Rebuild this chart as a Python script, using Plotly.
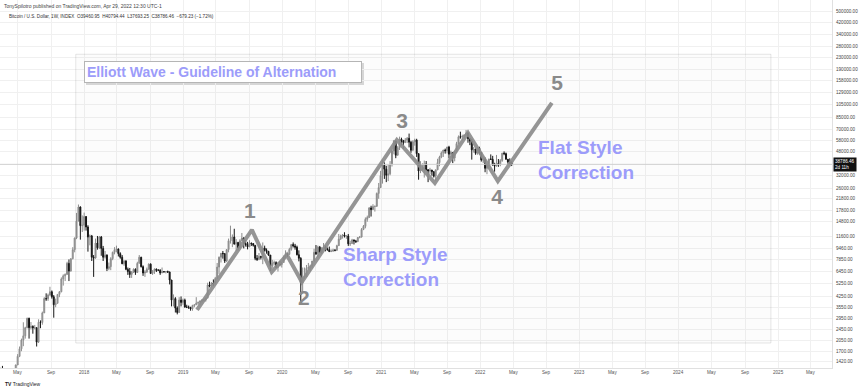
import math
import pandas as pd
import plotly.graph_objects as go

# ---------------- data (weekly BTC/USD index candles) ----------------
first_week = "2017-02-27"
first_open = 1190

highs = [
    1290, 1330, 1260, 1060, 1100, 1200, 1210, 1260, 1360, 1620, 1840, 2100, 2760, 2560, 2980, 2980,
    2770, 2620, 2640, 2540, 2900, 2850, 3300, 4200, 4480, 4460, 5000, 4700, 4350, 4100, 4400, 4650,
    5850, 6150, 6250, 7600, 7900, 8050, 9700, 11400, 17200, 19800, 19200, 16500,
    17300, 16300, 14000, 12000, 11900, 8500, 11200, 11700, 11700, 11700, 9900, 9100, 8600, 7500,
    8200, 9000, 9700, 9950, 9500, 8900, 8500, 7800, 7800, 6900, 6850, 6500, 6800, 6800, 7600, 8500,
    8250, 7150, 6600, 6900, 7400, 7400, 6600, 6800, 6800, 6700, 6700, 6900, 6500, 6500, 6550, 6450,
    5600, 4400, 4200, 3600, 4200, 4250,
    4100, 4100, 3700, 3650, 3550, 3700, 3700, 4200, 3900, 3950, 4050, 4100, 4150, 5350, 5450, 5400,
    5650, 5900, 7450, 8300, 8800, 9100, 8800, 9400, 11200, 13900, 12000, 13200, 11100, 10600, 11100, 12300,
    11450, 10950, 10600, 10900, 10450, 10350, 10000, 8500, 8800, 8400, 10500, 9950, 9500, 9100, 8500, 7850,
    7750, 7650, 7550, 7700,
    7500, 8450, 9200, 8800, 9600, 10150, 10500, 10250, 9950, 9200, 8200, 6900, 6900, 7200, 7450, 7250,
    7700, 9450, 10050, 9950, 9900, 9700, 10400, 9950, 9650, 9800, 9350, 9450, 9350, 10100, 12100, 11950,
    12050, 12450, 11800, 12100, 10800, 11150, 11000, 10950, 11500, 11700, 13350, 14050, 15950, 16450, 18950, 19400,
    19900, 19400, 24200, 28400,
    34800, 41950, 40100, 37850, 38550, 40950, 49650, 58350, 57500, 52600, 61700, 60600, 58400, 60200, 61200, 64900,
    57500, 58000, 59600, 59500, 46600, 40900, 39500, 41300, 41000, 35700, 36600, 35300, 34700, 35400, 42600, 44800,
    48100, 49400, 50500, 52000, 52900, 48800, 47400, 48500, 56600, 62900, 67000, 63700, 64300, 69000, 66300, 59900,
    59200, 51900, 50500, 51900,
    52100, 47600, 44500, 43500, 38900, 42600, 45800, 44700, 39800, 45400, 42400, 42300, 46900, 48200, 47200, 42400,
    42900, 40794,
]
lows = [
    1170, 980, 950, 890, 950, 1090, 1160, 1180, 1240, 1350, 1540, 1700, 1850, 2100, 2500, 2100,
    2450, 2280, 2450, 1840, 1950, 2500, 2650, 3220, 3950, 3950, 4300, 4100, 2980, 3550, 3800, 4200,
    4560, 5100, 5500, 6100, 5500, 6450, 7900, 8900, 11100, 15000, 11000, 12500,
    12800, 12800, 9000, 10000, 7700, 5900, 8000, 9300, 9400, 8400, 7700, 8000, 6500, 6600,
    6600, 7800, 8600, 8900, 8300, 8000, 7300, 7100, 6600, 6100, 5800, 5800, 6300, 6100, 6300, 7400,
    6900, 6000, 5900, 6300, 6650, 6200, 6100, 6200, 6400, 6500, 6100, 6300, 6380, 6250, 6300, 5200,
    3600, 3600, 3250, 3150, 3250, 3600,
    3700, 3550, 3500, 3450, 3350, 3350, 3550, 3700, 3700, 3700, 3850, 3950, 3900, 4100, 4950, 4950,
    5050, 5200, 5700, 6200, 7500, 8000, 7450, 7550, 8900, 10300, 9700, 10200, 9100, 9200, 9400, 10800,
    9500, 9800, 9350, 9750, 9900, 9800, 7800, 7700, 7800, 7900, 7300, 9000, 8700, 8400, 6500, 6850,
    7150, 6850, 6450, 7050,
    6900, 7500, 8100, 8250, 8550, 9150, 9650, 9300, 8450, 7650, 3850, 4450, 5700, 5900, 6700, 6500,
    6800, 7600, 8500, 8200, 8800, 8650, 9300, 9050, 9150, 8950, 8950, 9050, 9050, 9150, 9900, 10950,
    11200, 11400, 11150, 9900, 9900, 10250, 10150, 10400, 10550, 11250, 11400, 12900, 13300, 14850, 15800, 16200,
    18100, 17600, 19000, 21800,
    26100, 28100, 30400, 28800, 29300, 32300, 37400, 45900, 43000, 45000, 49300, 53300, 50400, 55500, 55500, 51500,
    47000, 48800, 53000, 43900, 30000, 33500, 34900, 31100, 34800, 28800, 32800, 32100, 31100, 29300, 35200, 37600,
    43000, 43900, 46400, 46600, 42800, 43400, 39600, 40800, 46900, 54400, 59600, 57800, 59400, 62300, 55700, 53500,
    42000, 47200, 45500, 45600,
    45700, 40600, 39600, 34000, 32900, 36300, 41700, 38100, 34300, 37500, 37200, 37600, 40500, 45200, 42100, 39200,
    38600, 37693,
]
closes = [
    1270, 1230, 970, 970, 1140, 1190, 1180, 1250, 1350, 1560, 1770, 2050, 2200, 2520, 2950, 2520,
    2580, 2510, 2520, 1980, 2760, 2750, 3230, 4100, 4090, 4350, 4600, 4230, 3700, 3790, 4400, 4600,
    5700, 6000, 6150, 7400, 6500, 8000, 9300, 11300, 15000, 19000, 13900, 14000,
    16200, 13600, 11500, 11700, 8200, 8100, 10400, 9600, 11500, 9500, 8200, 8500, 6800, 7000,
    8000, 8900, 9300, 9400, 8700, 8200, 7350, 7700, 6700, 6450, 6150, 6400, 6700, 6350, 7400, 8200,
    7000, 6300, 6400, 6700, 7300, 6250, 6500, 6700, 6600, 6600, 6300, 6450, 6400, 6450, 6400, 5600,
    4000, 4100, 3500, 3250, 4000, 3850,
    4000, 3550, 3550, 3550, 3450, 3650, 3700, 3800, 3850, 3950, 4000, 4000, 4150, 5150, 5050, 5300,
    5250, 5750, 6950, 8200, 8750, 8700, 7700, 9300, 10800, 10800, 11500, 10200, 10500, 9500, 10800, 11300,
    10300, 10150, 9750, 10400, 10300, 10000, 8050, 7900, 8300, 8200, 9550, 9200, 9050, 8500, 7050, 7400,
    7500, 6900, 7300, 7250,
    7500, 8200, 8700, 8600, 9350, 10150, 9900, 9700, 8550, 8050, 5350, 5850, 5900, 6800, 6900, 7100,
    7700, 8900, 8700, 9700, 8900, 9450, 9750, 9350, 9300, 9000, 9050, 9250, 9200, 9950, 11100, 11700,
    11900, 11650, 11700, 10250, 10300, 10950, 10750, 10650, 11400, 11500, 13050, 13750, 15450, 15950, 18700, 18200,
    19150, 19250, 23850, 26300,
    32200, 38200, 35800, 32300, 33100, 38850, 48600, 57450, 45200, 51200, 59000, 57500, 55800, 58200, 60000, 56200,
    49100, 56600, 58200, 46400, 34700, 35700, 35800, 39100, 35500, 34700, 35300, 34300, 31800, 35400, 39900, 43800,
    47000, 49300, 48800, 51800, 46000, 47300, 43200, 48200, 54900, 61500, 61300, 61800, 63300, 65500, 59700, 57300,
    49400, 50100, 46700, 50800,
    47300, 41800, 42200, 36300, 37900, 42400, 42200, 38300, 37700, 39400, 38800, 41300, 46800, 46400, 42200, 40400,
    39466, 38786.46,
]

# Elliott wave drawing (date, price) vertices
wave_dates = ["2019-02-21", "2019-09-11", "2019-11-23", "2020-01-18", "2020-03-13",
              "2021-02-26", "2021-07-16", "2021-11-15", "2022-03-05", "2022-09-20"]
wave_prices = [3390, 12940, 6405, 8510, 5420, 58400, 28400, 65600, 29300, 108500]

wave_labels = ["1", "2", "3", "4", "5"]
wave_label_dates = ["2019-09-03", "2020-03-20", "2021-03-17", "2022-03-02", "2022-10-09"]
wave_label_prices = [17180, 4009, 77560, 21750, 146400]

# background rectangle drawing (date, price)
rect_dates = ["2017-12-01", "2024-12-05"]
rect_prices = [1951, 244800]

last_price = 38786.46

price_ticks = [1420, 1700, 2050, 2450, 2950, 3550, 4250, 5250, 6450, 7850, 9460, 11600, 14800,
               17800, 21800, 26000, 32000, 48000, 58000, 70000, 85000, 105000, 129000, 158000,
               190000, 230000, 280000, 340000, 420000, 500000]

time_tick_dates = ["2017-05-01", "2017-09-01", "2018-01-01", "2018-05-01", "2018-09-01",
                   "2019-01-01", "2019-05-01", "2019-09-01", "2020-01-01", "2020-05-01",
                   "2020-09-01", "2021-01-01", "2021-05-01", "2021-09-01", "2022-01-01",
                   "2022-05-01", "2022-09-01", "2023-01-01", "2023-05-01", "2023-09-01",
                   "2024-01-01", "2024-05-01", "2024-09-01", "2025-01-01", "2025-05-01"]
time_tick_labels = ["May", "Sep", "2018", "May", "Sep", "2019", "May", "Sep", "2020", "May",
                    "Sep", "2021", "May", "Sep", "2022", "May", "Sep", "2023", "May", "Sep",
                    "2024", "May", "Sep", "2025", "May"]

x_range = ["2017-02-25", "2025-07-18"]
y_range_prices = [1284, 607000]

# ---------------- figure ----------------
dates = pd.date_range(first_week, periods=len(closes), freq="7D")
opens = [first_open] + closes[:-1]

W, H = 860, 390
L_M, R_M, T_M, B_M = 0, 28, 0, 22
PW, PH = W - L_M - R_M, H - T_M - B_M
FONT = "Liberation Sans, Arial"


def px(x):
    return x / PW


def py(y):
    return 1 - y / PH


fig = go.Figure()

# background drawn rectangle
fig.add_trace(go.Scatter(
    x=[rect_dates[0], rect_dates[1], rect_dates[1], rect_dates[0], rect_dates[0]],
    y=[rect_prices[0], rect_prices[0], rect_prices[1], rect_prices[1], rect_prices[0]],
    mode="lines", fill="toself", fillcolor="rgba(0,0,0,0.012)",
    line=dict(color="rgba(0,0,0,0.10)", width=1), hoverinfo="skip", showlegend=False))

# last price line
fig.add_trace(go.Scatter(
    x=x_range, y=[last_price, last_price], mode="lines",
    line=dict(color="#cfcfcf", width=1), hoverinfo="skip", showlegend=False))

fig.add_trace(go.Candlestick(
    x=dates, open=opens, high=highs, low=lows, close=closes,
    increasing=dict(line=dict(color="#8e8e8e", width=1), fillcolor="#9c9c9c"),
    decreasing=dict(line=dict(color="#161616", width=1), fillcolor="#161616"),
    whiskerwidth=0, hoverinfo="skip", showlegend=False))

fig.add_trace(go.Scatter(
    x=wave_dates, y=wave_prices, mode="lines",
    line=dict(color="rgba(140,140,140,0.92)", width=4),
    hoverinfo="skip", showlegend=False))

fig.add_trace(go.Scatter(
    x=wave_label_dates, y=wave_label_prices, mode="text",
    text=["<b>%s</b>" % t for t in wave_labels],
    textfont=dict(family=FONT, size=21, color="#8a8a8a"),
    textposition="middle center", hoverinfo="skip", showlegend=False))

annotations = []
# price-scale labels (through the y axis scale)
for v in price_ticks:
    annotations.append(dict(
        xref="paper", yref="y", x=1.0, y=math.log10(v), xanchor="left", yanchor="middle",
        xshift=2, text="%d.00" % v, showarrow=False,
        font=dict(family=FONT, size=4.6, color="#444")))
# time-scale labels (through the x axis scale)
for d, t in zip(time_tick_dates, time_tick_labels):
    annotations.append(dict(
        xref="x", yref="paper", x=d, y=py(373), xanchor="center", yanchor="middle",
        text=t, showarrow=False, font=dict(family=FONT, size=4.6, color="#555")))
# header
annotations.append(dict(
    xref="paper", yref="paper", x=px(2), y=py(1), xanchor="left", yanchor="top",
    text="TonySpilotro published on TradingView.com, Apr 29, 2022 12:30 UTC-1",
    showarrow=False, font=dict(family=FONT, size=5, color="#444")))
annotations.append(dict(
    xref="paper", yref="paper", x=px(7), y=py(11.5), xanchor="left", yanchor="top",
    text="Bitcoin / U.S. Dollar, 1W, INDEX  O39460.95  H40794.44  L37693.25  C38786.46  \u2212679.23 (\u22121.72%)",
    showarrow=False, font=dict(family=FONT, size=4.6, color="#333")))
# title box
annotations.append(dict(
    xref="paper", yref="paper", x=px(84), y=py(61), xanchor="left", yanchor="top",
    text="<b>Elliott Wave - Guideline of Alternation</b>", showarrow=False, align="left",
    width=272, height=16, borderpad=2, borderwidth=1, bordercolor="#b5b5b5", bgcolor="#ffffff",
    font=dict(family=FONT, size=14, color="#9c9cfa")))
annotations.append(dict(
    xref="paper", yref="paper", x=px(341), y=py(267), xanchor="left", yanchor="middle",
    text="<b>Sharp Style<br>Correction</b>", showarrow=False, align="left",
    font=dict(family=FONT, size=19, color="#9c9cfa")))
annotations.append(dict(
    xref="paper", yref="paper", x=px(536), y=py(159.5), xanchor="left", yanchor="middle",
    text="<b>Flat Style<br>Correction</b>", showarrow=False, align="left",
    font=dict(family=FONT, size=19, color="#9c9cfa")))
# last price tag
annotations.append(dict(
    xref="paper", yref="y", x=1.0, y=math.log10(last_price), xanchor="left", yanchor="middle",
    xshift=1, text="38786.46<br>2d 11h", showarrow=False, align="left", bgcolor="#111111",
    borderpad=1, font=dict(family=FONT, size=4.6, color="#ffffff")))
# logo
annotations.append(dict(
    xref="paper", yref="paper", x=px(3), y=py(384), xanchor="left", yanchor="middle",
    text="<b>TV</b> TradingView", showarrow=False,
    font=dict(family=FONT, size=5, color="#222")))

shapes = [
    # shadow of title box
    dict(type="rect", xref="paper", yref="paper", x0=px(86), x1=px(364), y0=py(85), y1=py(63),
         fillcolor="#d9d9d9", line=dict(width=0), layer="below"),
]

fig.update_layout(
    template="none",
    width=W, height=H,
    margin=dict(l=L_M, r=R_M, t=T_M, b=B_M, pad=0, autoexpand=False),
    paper_bgcolor="#ffffff", plot_bgcolor="#ffffff",
    showlegend=False, hovermode=False,
    annotations=annotations, shapes=shapes,
    xaxis=dict(
        type="date", range=x_range, rangeslider=dict(visible=False), automargin=False,
        tickvals=time_tick_dates, showticklabels=False,
        showgrid=True, gridcolor="#f0f0f0", gridwidth=1, zeroline=False,
        showline=True, linecolor="#e0e0e0", linewidth=1, ticks=""),
    yaxis=dict(
        type="log", side="right", automargin=False,
        range=[math.log10(y_range_prices[0]), math.log10(y_range_prices[1])],
        tickvals=price_ticks, showticklabels=False,
        showgrid=True, gridcolor="#f0f0f0", gridwidth=1, zeroline=False,
        showline=True, linecolor="#e0e0e0", linewidth=1, ticks=""),
)

fig.write_html(
    "out.html",
    config={"displayModeBar": False},
    post_script="document.body.style.margin='0';document.body.style.overflow='hidden';",
)
